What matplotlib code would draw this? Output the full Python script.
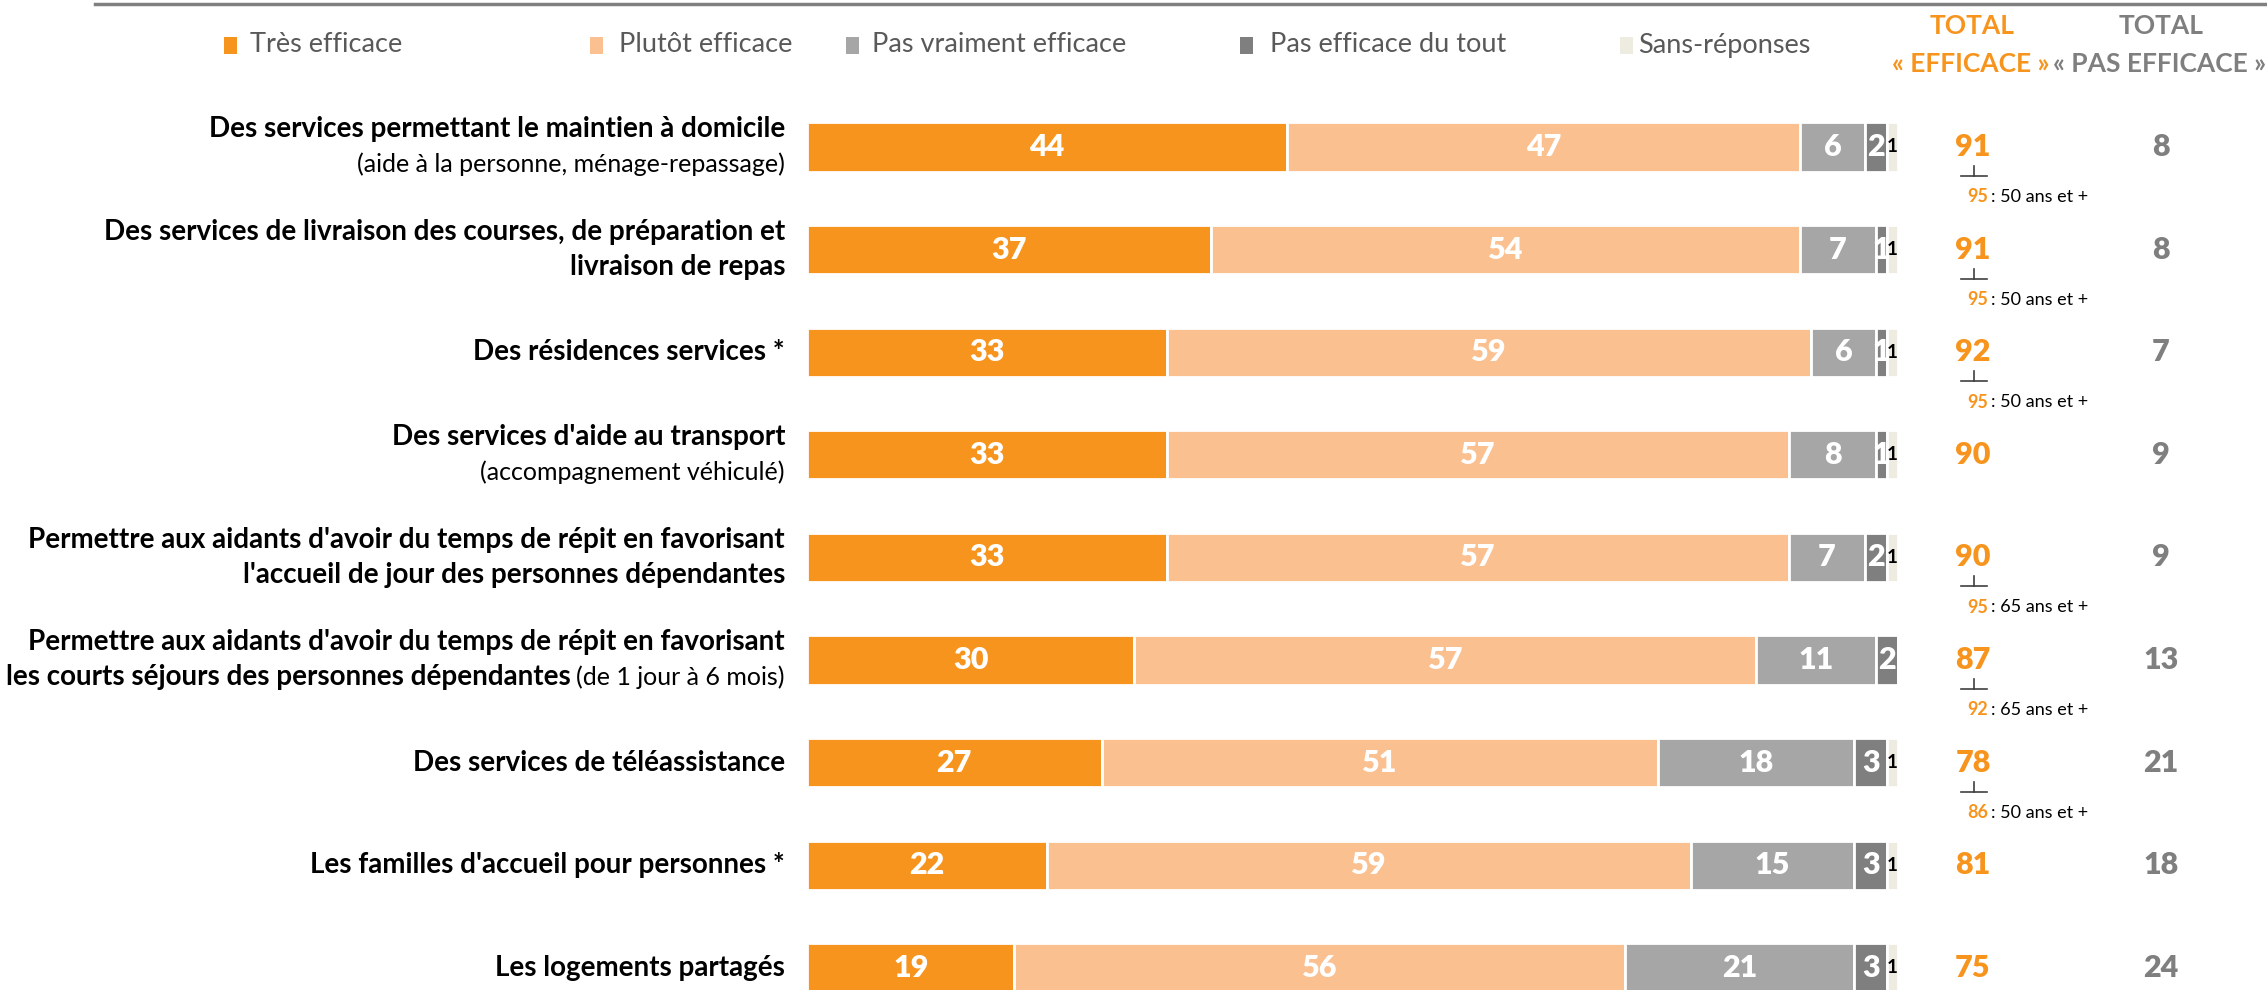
import matplotlib
matplotlib.use('Agg')
import matplotlib.pyplot as plt
from matplotlib.patches import Rectangle
from matplotlib.lines import Line2D
from matplotlib import transforms

plt.rcParams['font.family'] = ['Lato', 'DejaVu Sans']

# --- data -------------------------------------------------------------
series = ['Très efficace', 'Plutôt efficace', 'Pas vraiment efficace',
          'Pas efficace du tout', 'Sans-réponses']
tres = [44, 37, 33, 33, 33, 30, 27, 22, 19]
plutot = [47, 54, 59, 57, 57, 57, 51, 59, 56]
pas_vraiment = [6, 7, 6, 8, 7, 11, 18, 15, 21]
pas_du_tout = [2, 1, 1, 1, 2, 2, 3, 3, 3]
sans_rep = [1, 1, 1, 1, 1, 0, 1, 1, 1]
total_eff = [91, 91, 92, 90, 90, 87, 78, 81, 75]
total_pas = [8, 8, 7, 9, 9, 13, 21, 18, 24]
sub_value = [95, 95, 95, None, 95, 92, 86, None, None]
sub_group = ['50 ans et +', '50 ans et +', '50 ans et +', None,
             '65 ans et +', '65 ans et +', '50 ans et +', None, None]

# each label: list of lines, each line: list of (text, bold)
labels = [
    [[('Des services permettant le maintien à domicile', True)],
     [('(aide à la personne, ménage-repassage)', False)]],
    [[('Des services de livraison des courses, de préparation et', True)],
     [('livraison de repas', True)]],
    [[('Des résidences services *', True)]],
    [[("Des services d'aide au transport", True)],
     [('(accompagnement véhiculé)', False)]],
    [[("Permettre aux aidants d'avoir du temps de répit en favorisant", True)],
     [("l'accueil de jour des personnes dépendantes", True)]],
    [[("Permettre aux aidants d'avoir du temps de répit en favorisant", True)],
     [('les courts séjours des personnes dépendantes', True),
      ('(de 1 jour à 6 mois)', False)]],
    [[('Des services de téléassistance', True)]],
    [[("Les familles d'accueil pour personnes *", True)]],
    [[('Les logements partagés', True)]],
]

colors = ['#F7941D', '#FAC090', '#A6A6A6', '#7F7F7F', '#EEECE1']
ORANGE = '#F7941D'
GREY = '#7F7F7F'

# --- figure -----------------------------------------------------------
W, H = 2267, 990
fig = plt.figure(figsize=(W / 100, H / 100), dpi=100)


def fx(px):
    return px / W


def fy(py):
    return 1 - py / H


row0, step = 147, 102.6
n = len(tres)
ax_top = row0 - step / 2
ax = fig.add_axes([fx(807), 0, fx(1898) - fx(807), (H - ax_top) / H])
ax.set_xlim(0, 100)
ax.set_ylim(n - 1 + (H - (row0 + (n - 1) * step)) / step, -0.5)
ax.axis('off')

rows = list(range(n))
left = [0] * n
for k, (vals, col) in enumerate(zip([tres, plutot, pas_vraiment, pas_du_tout, sans_rep], colors)):
    ax.barh(rows, vals, left=left, height=0.478, color=col,
            edgecolor='white', linewidth=2)
    for i, v in enumerate(vals):
        if v == 0:
            continue
        xc = left[i] + v / 2
        if k == 4:
            ax.text(xc, i, str(v), ha='center', va='center', color='black',
                    fontsize=13.5, fontweight='bold')
        else:
            ax.text(xc, i, str(v), ha='center', va='center', color='white',
                    fontsize=22, fontweight='heavy')
    left = [a + b for a, b in zip(left, vals)]

# row labels, right aligned
blend = transforms.blended_transform_factory(fig.transFigure, ax.transData)
lab_x = fx(785)
BOLD_FS, NORM_FS = 20, 18
for i, lines in enumerate(labels):
    nl = len(lines)
    for j, segs in enumerate(lines):
        off = (j - (nl - 1) / 2) * 35
        prev = None
        for text, bold in reversed(segs):
            w = 'bold' if bold else 'normal'
            fs = BOLD_FS if bold else NORM_FS
            if prev is None:
                prev = ax.annotate(text, xy=(lab_x, i), xycoords=blend,
                                   xytext=(0, -off), textcoords='offset pixels',
                                   ha='right', va='center', fontsize=fs,
                                   fontweight=w, color='black')
            else:
                prev = ax.annotate(text, xy=(0, 0.5), xycoords=prev,
                                   xytext=(-6, 0), textcoords='offset pixels',
                                   ha='right', va='center', fontsize=fs,
                                   fontweight=w, color='black')

# totals
for i in rows:
    ax.text(fx(1973), i, str(total_eff[i]), transform=blend, ha='center',
            va='center', fontsize=22, fontweight='heavy', color=ORANGE)
    ax.text(fx(2161), i, str(total_pas[i]), transform=blend, ha='center',
            va='center', fontsize=22, fontweight='heavy', color=GREY)
    if sub_value[i] is not None:
        yfig = fig.transFigure.inverted().transform(ax.transData.transform((0, i)))[1]
        yl = yfig - 29 / H
        fig.add_artist(Line2D([fx(1961), fx(1987)], [yl, yl], color='#404040', lw=1.2))
        fig.add_artist(Line2D([fx(1974), fx(1974)], [yl, yl + 10 / H], color='#404040', lw=1.2))
        ax.annotate(str(sub_value[i]), xy=(fx(1988), i), xycoords=blend,
                    xytext=(0, -50), textcoords='offset pixels', ha='right',
                    va='center', fontsize=13, fontweight='bold', color=ORANGE)
        ax.annotate(': ' + sub_group[i], xy=(fx(1991), i), xycoords=blend,
                    xytext=(0, -50), textcoords='offset pixels', ha='left',
                    va='center', fontsize=13, color='black')

# column headers
HDR_FS = 19
fig.text(fx(1972), fy(26), 'TOTAL', ha='center', va='center', fontsize=HDR_FS,
         fontweight='bold', color=ORANGE)
fig.text(fx(1971), fy(64), '« EFFICACE »', ha='center', va='center', fontsize=HDR_FS,
         fontweight='bold', color=ORANGE)
fig.text(fx(2161), fy(26), 'TOTAL', ha='center', va='center', fontsize=HDR_FS,
         fontweight='bold', color=GREY)
fig.text(fx(2160), fy(64), '« PAS EFFICACE »', ha='center', va='center', fontsize=HDR_FS,
         fontweight='bold', color=GREY)

# legend
leg_marker_x = [224, 590, 846, 1240, 1620]
leg_text_x = [250, 619, 872, 1270, 1638]
for name, col, mx, tx in zip(series, colors, leg_marker_x, leg_text_x):
    fig.add_artist(Rectangle((fx(mx), fy(45 + 8.5)), 13 / W, 17 / H,
                             facecolor=col, edgecolor='none'))
    fig.text(fx(tx), fy(45), name, ha='left', va='center', fontsize=19.5,
             color='#595959')

# top rule
fig.add_artist(Line2D([fx(95), 1], [fy(4), fy(4)], color='#808080', lw=2.5))

fig.savefig('out.png', dpi=100)
